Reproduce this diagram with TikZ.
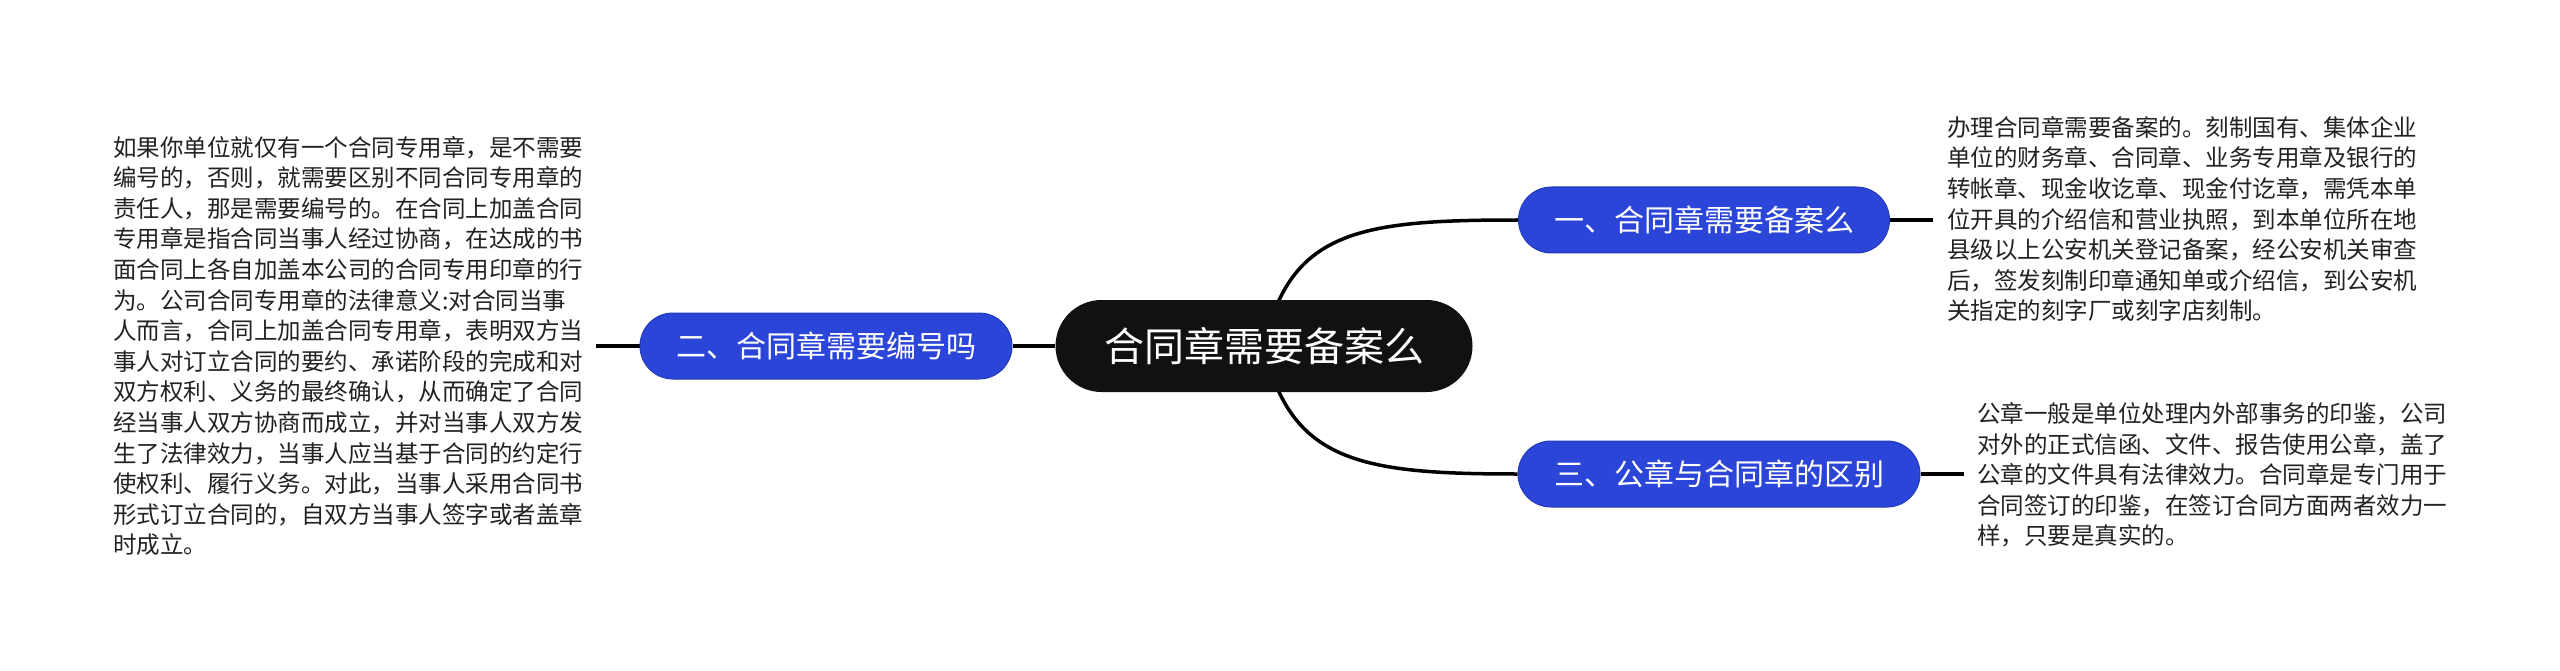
\documentclass[tikz,border=0pt]{standalone}
\usepackage{fontspec}
\setmainfont{Noto Sans CJK SC}
\usetikzlibrary{backgrounds}
\definecolor{nodeblue}{HTML}{2A45D8}
\definecolor{nodeblack}{HTML}{111111}
\definecolor{txt}{HTML}{222222}
\begin{document}
\begin{tikzpicture}[x=1pt,y=-1pt,
  conn/.style={line width=3.5pt, draw=black},
  central/.style={rectangle, rounded corners=46pt, fill=nodeblack, text=white, minimum width=417pt, minimum height=92pt, font=\fontsize{40}{48}\selectfont, inner sep=0pt},
  topic/.style={rectangle, rounded corners=33pt, fill=nodeblue, draw=nodeblue!85!black, line width=1pt, text=white, minimum height=66pt, font=\fontsize{30}{36}\selectfont, inner sep=0pt},
  note/.style={align=left, inner sep=0pt, text=txt, font=\fontsize{23.5}{30.6}\selectfont}]
\useasboundingbox (0,0) rectangle (2560,671);
\begin{scope}[on background layer]
  \fill[white] (0,0) rectangle (2560,671);
\end{scope}

\node[central] (c) at (1264,346) {合同章需要备案么};
\node[topic, minimum width=372pt] (t2) at (826,346) {二、合同章需要编号吗};
\node[topic, minimum width=371pt] (t1) at (1704,220) {一、合同章需要备案么};
\node[topic, minimum width=402pt] (t3) at (1719,474) {三、公章与合同章的区别};

\node[note, anchor=west] (n2) at (113,346) {如果你单位就仅有一个合同专用章，是不需要\\编号的，否则，就需要区别不同合同专用章的\\责任人，那是需要编号的。在合同上加盖合同\\专用章是指合同当事人经过协商，在达成的书\\面合同上各自加盖本公司的合同专用印章的行\\为。公司合同专用章的法律意义:对合同当事\\人而言，合同上加盖合同专用章，表明双方当\\事人对订立合同的要约、承诺阶段的完成和对\\双方权利、义务的最终确认，从而确定了合同\\经当事人双方协商而成立，并对当事人双方发\\生了法律效力，当事人应当基于合同的约定行\\使权利、履行义务。对此，当事人采用合同书\\形式订立合同的，自双方当事人签字或者盖章\\时成立。};

\node[note, anchor=west] (n1) at (1947,219) {办理合同章需要备案的。刻制国有、集体企业\\单位的财务章、合同章、业务专用章及银行的\\转帐章、现金收讫章、现金付讫章，需凭本单\\位开具的介绍信和营业执照，到本单位所在地\\县级以上公安机关登记备案，经公安机关审查\\后，签发刻制印章通知单或介绍信，到公安机\\关指定的刻字厂或刻字店刻制。};

\node[note, anchor=west] (n3) at (1977,475) {公章一般是单位处理内外部事务的印鉴，公司\\对外的正式信函、文件、报告使用公章，盖了\\公章的文件具有法律效力。合同章是专门用于\\合同签订的印鉴，在签订合同方面两者效力一\\样，只要是真实的。};

\coordinate (n2e) at ([xshift=13pt]n2.east);
\coordinate (n1w) at ([xshift=-14pt]n1.west |- t1.east);
\coordinate (n3w) at ([xshift=-13pt]n3.west |- t3.east);

\begin{scope}[on background layer]
  \draw[conn] (c.center) .. controls (1290,230) and (1360,220) .. (t1.west);
  \draw[conn] (c.center) .. controls (1290,462) and (1360,474) .. (t3.west);
  \draw[conn] (c.west) -- (t2.east);
  \draw[conn] (t2.west) -- (n2e);
  \draw[conn] (t1.east) -- (n1w);
  \draw[conn] (t3.east) -- (n3w);
\end{scope}
\end{tikzpicture}
\end{document}
